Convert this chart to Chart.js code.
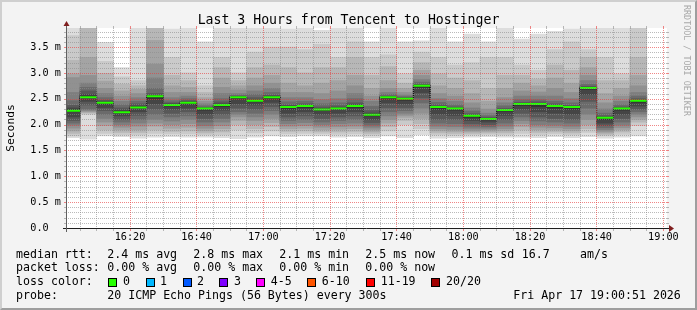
<!DOCTYPE html>
<html><head><meta charset="utf-8">
<script src="https://cdn.jsdelivr.net/npm/chart.js@4"></script>
<style>
html,body{margin:0;padding:0;background:#f3f3f3;}
#wrap{position:relative;width:697px;height:310px;overflow:hidden;background:#f3f3f3;font-family:'DejaVu Sans Mono',monospace;color:#000;}
#c{position:absolute;left:0;top:0;}
.t{position:absolute;white-space:pre;line-height:1;}
#title{left:0;width:697px;text-align:center;top:12.8px;font-size:13.2px;}
#vt{position:absolute;left:683px;top:5px;writing-mode:vertical-rl;font-size:8.4px;line-height:1;color:#a8a8a8;white-space:pre;}
.lg{font-size:11.6px;}
.box{position:absolute;width:7px;height:7px;border:1px solid #000;}
#frame{position:absolute;left:0;top:0;width:697px;height:310px;box-sizing:border-box;border:2px solid;border-color:#cfcfcf #9e9e9e #9e9e9e #cfcfcf;pointer-events:none;}
</style></head>
<body>
<div id="wrap">
<canvas id="c" width="697" height="310"></canvas>
<div class="t" id="title">Last 3 Hours from Tencent to Hostinger</div>
<div id="vt">RRDTOOL / TOBI OETIKER</div>
<div id="legend"></div>
<div id="frame"></div>
</div>
<script>
// ---- data ----
const slotTimes = ['16:00','16:05','16:10','16:15','16:20','16:25','16:30','16:35','16:40','16:45','16:50','16:55',
  '17:00','17:05','17:10','17:15','17:20','17:25','17:30','17:35','17:40','17:45','17:50','17:55',
  '18:00','18:05','18:10','18:15','18:20','18:25','18:30','18:35','18:40','18:45','18:50'];
const medianRtt = [2.27,2.53,2.42,2.24,2.33,2.55,2.38,2.42,2.31,2.38,2.53,2.46,2.53,2.34,2.36,2.29,2.31,2.36,2.19,2.53,2.50,2.75,2.34,2.31,2.17,2.11,2.28,2.40,2.40,2.36,2.34,2.71,2.13,2.31,2.46];
// sorted ping times (ms) per 5-minute slot, rank 1 (fastest) .. rank 20 (slowest)
const ping01 = [1.75,1.72,1.78,1.77,1.74,1.76,1.77,1.76,1.76,1.75,1.73,1.76,1.78,1.77,1.78,1.78,1.76,1.77,1.75,1.78,1.75,1.80,1.74,1.75,1.76,1.77,1.76,1.76,1.75,1.77,1.75,1.77,1.74,1.76,1.78];
const ping02 = [1.78,2.20,1.83,1.80,1.80,1.83,1.82,1.82,1.80,1.80,1.90,1.84,1.88,1.82,1.83,1.82,1.81,1.82,1.79,1.88,2.00,1.92,1.80,1.79,1.80,1.81,1.80,1.83,1.80,1.82,1.80,1.85,1.78,1.81,1.98];
const ping03 = [1.83,2.22,1.90,1.85,1.85,1.90,1.87,1.88,1.84,1.86,2.00,1.92,1.96,1.87,1.88,1.86,1.86,1.87,1.83,1.96,2.08,2.02,1.84,1.83,1.83,1.84,1.84,1.90,1.85,1.86,1.84,1.92,1.81,1.86,2.05];
const ping04 = [1.88,2.24,1.98,1.90,1.90,1.97,1.93,1.95,1.88,1.92,2.08,2.00,2.04,1.92,1.93,1.90,1.91,1.92,1.87,2.03,2.14,2.12,1.88,1.87,1.86,1.87,1.88,1.96,1.90,1.90,1.88,2.00,1.84,1.90,2.10];
const ping05 = [1.93,2.26,2.05,1.95,1.97,2.03,2.00,2.02,1.93,1.98,2.15,2.08,2.12,1.97,1.98,1.95,1.96,1.97,1.91,2.10,2.18,2.22,1.92,1.91,1.89,1.90,1.92,2.02,1.95,1.94,1.92,2.10,1.87,1.94,2.15];
const ping06 = [1.99,2.28,2.12,2.00,2.03,2.10,2.07,2.10,1.98,2.05,2.20,2.15,2.20,2.02,2.04,2.00,2.02,2.03,1.95,2.17,2.22,2.32,1.97,1.96,1.93,1.93,1.97,2.08,2.00,1.99,1.97,2.20,1.90,1.99,2.20];
const ping07 = [2.03,2.30,2.20,2.05,2.10,2.20,2.15,2.17,2.05,2.12,2.25,2.22,2.27,2.08,2.10,2.05,2.08,2.10,1.99,2.25,2.27,2.42,2.03,2.02,1.97,1.96,2.03,2.15,2.07,2.05,2.03,2.32,1.94,2.05,2.25];
const ping08 = [2.08,2.38,2.27,2.10,2.18,2.30,2.22,2.25,2.12,2.20,2.32,2.30,2.35,2.15,2.17,2.12,2.15,2.17,2.04,2.33,2.33,2.52,2.10,2.10,2.02,2.00,2.10,2.22,2.15,2.12,2.10,2.45,1.98,2.12,2.30];
const ping09 = [2.15,2.45,2.33,2.17,2.25,2.40,2.30,2.32,2.20,2.28,2.40,2.38,2.43,2.22,2.25,2.20,2.22,2.25,2.10,2.42,2.40,2.62,2.20,2.18,2.08,2.05,2.18,2.30,2.25,2.22,2.20,2.58,2.03,2.20,2.36];
const ping10 = [2.25,2.52,2.40,2.23,2.32,2.50,2.36,2.40,2.28,2.35,2.50,2.44,2.50,2.30,2.33,2.27,2.29,2.33,2.17,2.50,2.47,2.72,2.30,2.28,2.14,2.09,2.26,2.37,2.35,2.32,2.30,2.68,2.10,2.28,2.43];
const ping11 = [2.29,2.55,2.43,2.25,2.34,2.55,2.38,2.42,2.31,2.38,2.53,2.46,2.53,2.34,2.36,2.29,2.31,2.36,2.19,2.53,2.50,2.75,2.34,2.31,2.17,2.11,2.28,2.40,2.40,2.36,2.34,2.71,2.13,2.31,2.46];
const ping12 = [2.32,2.58,2.44,2.28,2.36,2.56,2.40,2.44,2.32,2.40,2.54,2.48,2.55,2.36,2.37,2.31,2.33,2.38,2.22,2.54,2.51,2.76,2.35,2.32,2.18,2.12,2.29,2.41,2.41,2.37,2.35,2.72,2.14,2.32,2.47];
const ping13 = [2.37,2.65,2.47,2.32,2.40,2.60,2.42,2.46,2.33,2.44,2.55,2.52,2.57,2.38,2.40,2.34,2.36,2.42,2.27,2.55,2.52,2.78,2.38,2.34,2.21,2.14,2.31,2.43,2.44,2.40,2.37,2.74,2.17,2.34,2.50];
const ping14 = [2.46,2.72,2.52,2.38,2.45,2.70,2.46,2.50,2.36,2.50,2.57,2.58,2.62,2.44,2.45,2.40,2.42,2.50,2.35,2.58,2.54,2.82,2.43,2.38,2.26,2.17,2.36,2.48,2.48,2.45,2.42,2.78,2.22,2.38,2.55];
const ping15 = [2.62,2.80,2.60,2.45,2.52,2.90,2.52,2.55,2.40,2.60,2.60,2.65,2.70,2.52,2.52,2.48,2.50,2.60,2.45,2.62,2.57,2.87,2.50,2.45,2.32,2.22,2.42,2.55,2.55,2.55,2.50,2.85,2.30,2.45,2.62];
const ping16 = [2.91,2.95,2.70,2.55,2.60,3.17,2.62,2.62,2.45,2.72,2.67,2.75,2.80,2.62,2.62,2.60,2.65,2.75,2.55,2.70,2.62,2.95,2.60,2.55,2.42,2.30,2.52,2.65,2.63,2.70,2.62,2.95,2.42,2.55,2.75];
const ping17 = [2.98,3.30,2.84,2.65,2.68,3.63,2.75,2.72,2.52,2.90,2.75,2.90,2.95,2.80,2.75,2.80,2.85,2.95,2.70,2.85,2.70,3.05,2.75,2.70,2.60,2.45,2.70,2.80,2.75,2.90,2.80,3.10,2.60,2.70,2.95];
const ping18 = [3.24,3.90,2.99,2.78,2.75,3.95,2.95,2.85,2.62,3.10,2.85,3.10,3.15,3.10,3.00,3.10,3.10,3.30,2.95,3.12,2.80,3.20,2.98,2.90,2.85,2.70,2.95,2.95,2.88,3.15,3.05,3.30,2.85,2.85,3.30];
const ping19 = [3.72,4.00,3.22,2.92,2.85,4.10,3.30,3.00,2.75,3.30,3.00,3.40,3.50,3.50,3.45,3.55,3.30,3.60,3.30,3.35,2.98,3.40,3.30,3.15,3.20,3.30,3.30,3.15,3.05,3.45,3.60,3.45,3.30,2.98,4.00];
const ping20 = [4.20,4.10,3.59,3.10,4.00,4.20,3.85,4.10,3.60,4.10,4.00,4.10,4.20,3.85,4.00,3.82,4.00,4.00,3.60,4.00,3.60,3.62,4.00,3.60,3.75,3.60,3.95,3.65,3.75,3.80,3.85,4.00,4.00,4.00,4.20];
const xTickLabels = ['16:20','16:40','17:00','17:20','17:40','18:00','18:20','18:40','19:00'];
const yTickLabels = ['0.0','0.5 m','1.0 m','1.5 m','2.0 m','2.5 m','3.0 m','3.5 m'];
const lossColors = [['0','#26ff00'],['1','#00b8ff'],['2','#0059ff'],['3','#7e00ff'],['4-5','#ff00ff'],['6-10','#ff5500'],['11-19','#ff0000'],['20/20','#a10000']];

// ---- legend (HTML text) ----
const legendLines = [
  [[16,'median rtt:'],[107.3,'2.4 ms avg'],[193.3,'2.8 ms max'],[279.3,'2.1 ms min'],[365.3,'2.5 ms now'],[451.5,'0.1 ms sd'],[521.7,'16.7'],[580,'am/s']],
  [[16,'packet loss:'],[107.3,'0.00 % avg'],[193.3,'0.00 % max'],[279.3,'0.00 % min'],[365.3,'0.00 % now']],
  [[16,'loss color:']],
  [[16,'probe:'],[107.3,'20 ICMP Echo Pings (56 Bytes) every 300s'],[513.3,'Fri Apr 17 19:00:51 2026']]
];
const lineTops = [248.5,262.4,276.2,290.2];
const boxX = [108,145.5,182.5,219,256,307,365.5,430.5];
const boxLabelX = [123,160,197,234,270.7,321.7,380.7,446];
const lg = document.getElementById('legend');
legendLines.forEach((ln,i)=>ln.forEach(([x,s])=>{
  const d=document.createElement('div');d.className='t lg';d.style.left=x+'px';d.style.top=lineTops[i]+'px';d.textContent=s;lg.appendChild(d);
}));
lossColors.forEach(([lab,col],k)=>{
  const b=document.createElement('div');b.className='box';b.style.left=boxX[k]+'px';b.style.top='277.5px';b.style.background=col;lg.appendChild(b);
  const d=document.createElement('div');d.className='t lg';d.style.left=boxLabelX[k]+'px';d.style.top=lineTops[2]+'px';d.textContent=lab;lg.appendChild(d);
});

// ---- chart ----
const toMin = t => { const [h,m]=t.split(':').map(Number); return (h-16)*60+m; };
const ranks = [ping01,ping02,ping03,ping04,ping05,ping06,ping07,ping08,ping09,ping10,ping11,ping12,ping13,ping14,ping15,ping16,ping17,ping18,ping19,ping20];
const shades = [221,202,183,164,145,126,107,88,69,50];
const datasets = [];
for (let i=1;i<=10;i++){
  const lo=ranks[i-1], hi=ranks[20-i], g=shades[i-1];
  datasets.push({type:'bar',order:20-i,grouped:false,barPercentage:1,categoryPercentage:1,borderWidth:0,inflateAmount:0.4,
    backgroundColor:`rgb(${g},${g},${g})`,
    data:slotTimes.map((t,j)=>({x:toMin(t)+2.5,y:[lo[j],hi[j]]}))});
}
const medSeg=[];
slotTimes.forEach((t,j)=>{const s=toMin(t);medSeg.push({x:s,y:medianRtt[j]},{x:s+5,y:medianRtt[j]},{x:s+5,y:null});});
datasets.push({type:'line',order:0,data:medSeg,borderColor:'#26ff00',borderWidth:2,pointRadius:0,spanGaps:false,borderCapStyle:'butt',tension:0});
datasets.push({type:'line',order:1,data:slotTimes.map((t,j)=>({x:toMin(t)+2.5,y:medianRtt[j]})),stepped:'middle',borderColor:'#000',borderWidth:1,borderDash:[1,1],pointRadius:0,tension:0});

const GRID='rgba(140,140,140,0.6)', MGRID='rgba(230,60,60,0.62)';
const frame = {
  id:'frame',
  beforeDraw(chart){const {ctx,chartArea:a}=chart;ctx.save();ctx.fillStyle='#fff';ctx.fillRect(a.left,a.top,a.right-a.left,a.bottom-a.top);ctx.restore();},
  afterDatasetsDraw(chart){
    const {ctx,chartArea:a,scales:{x,y}}=chart;
    ctx.save();ctx.lineWidth=1;
    const vline=(v,c)=>{const px=Math.floor(x.getPixelForValue(v)+1e-6)+0.5;ctx.strokeStyle=c;
      ctx.setLineDash([]);ctx.beginPath();ctx.moveTo(px,a.top-2);ctx.lineTo(px,a.top);ctx.moveTo(px,a.bottom+1);ctx.lineTo(px,a.bottom+3);ctx.stroke();
      ctx.setLineDash([1,1]);ctx.beginPath();ctx.moveTo(px,a.top);ctx.lineTo(px,a.bottom);ctx.stroke();};
    const hline=(v,c)=>{const py=Math.round(y.getPixelForValue(v))+0.5;ctx.strokeStyle=c;
      ctx.setLineDash([]);ctx.beginPath();ctx.moveTo(a.left-3,py);ctx.lineTo(a.left-1,py);ctx.moveTo(a.right,py);ctx.lineTo(a.right+2,py);ctx.stroke();
      ctx.setLineDash([1,1]);ctx.beginPath();ctx.moveTo(a.left+1,py);ctx.lineTo(a.right,py);ctx.stroke();};
    x.ticks.forEach(t=>{if(t.value%20!==0)vline(t.value,GRID);});
    y.ticks.forEach(t=>{if(Math.round(t.value*10)%5!==0)hline(t.value,GRID);});
    x.ticks.forEach(t=>{if(t.value%20===0)vline(t.value,MGRID);});
    y.ticks.forEach(t=>{if(Math.round(t.value*10)%5===0&&t.value>0)hline(t.value,MGRID);});
    ctx.restore();
  },
  afterDraw(chart){
    const {ctx,chartArea:a}=chart;ctx.save();
    ctx.strokeStyle='#1f1f1f';ctx.lineWidth=1;
    ctx.beginPath();ctx.moveTo(a.left-4,a.bottom+0.5);ctx.lineTo(a.right+3,a.bottom+0.5);ctx.stroke();
    ctx.strokeStyle='#606060';
    ctx.beginPath();ctx.moveTo(a.left-0.5,a.bottom+4);ctx.lineTo(a.left-0.5,a.top-3);ctx.stroke();
    ctx.fillStyle='#801f1f';
    ctx.beginPath();ctx.moveTo(a.left-0.5,a.top-7);ctx.lineTo(a.left-3.5,a.top-2);ctx.lineTo(a.left+2.5,a.top-2);ctx.closePath();ctx.fill();
    ctx.beginPath();ctx.moveTo(a.right+7,a.bottom+0.5);ctx.lineTo(a.right+2,a.bottom-3);ctx.lineTo(a.right+2,a.bottom+4);ctx.closePath();ctx.fill();
    ctx.restore();
  }
};
Chart.defaults.font.family="'DejaVu Sans Mono', monospace";
Chart.defaults.color='#000';
new Chart(document.getElementById('c'),{
  data:{datasets},
  options:{
    responsive:false,animation:false,events:[],
    layout:{padding:{left:0,top:28,right:30,bottom:62}},
    plugins:{legend:{display:false},tooltip:{enabled:false},title:{display:false}},
    scales:{
      x:{type:'linear',min:1.1,max:181.1,offset:false,
        afterFit:s=>{s.height=20;},
        afterBuildTicks:s=>{const t=[];for(let v=5;v<=180;v+=5)t.push({value:v});s.ticks=t;},
        ticks:{autoSkip:false,maxRotation:0,minRotation:0,padding:3,font:{size:10.2},color:'#000',
          callback:v=>(v%20===0?xTickLabels[v/20-1]:'')},
        grid:{display:false,drawTicks:false},
        border:{display:false}
      },
      y:{type:'linear',min:0,max:3.868,
        afterFit:s=>{s.width=67;},
        afterBuildTicks:s=>{const t=[];for(let k=0;k<=38;k++)t.push({value:k/10});s.ticks=t;},
        ticks:{autoSkip:false,padding:6,font:{size:10.2},color:'#000',
          callback:v=>{const k=Math.round(v*10);return k%5===0?yTickLabels[k/5].padEnd(5,' '):'';}},
        grid:{display:false,drawTicks:false},
        border:{display:false},
        title:{display:true,text:'Seconds',font:{size:11.3},color:'#000',padding:{top:4,bottom:0}}
      }
    }
  },
  plugins:[frame]
});
</script>
</body></html>
